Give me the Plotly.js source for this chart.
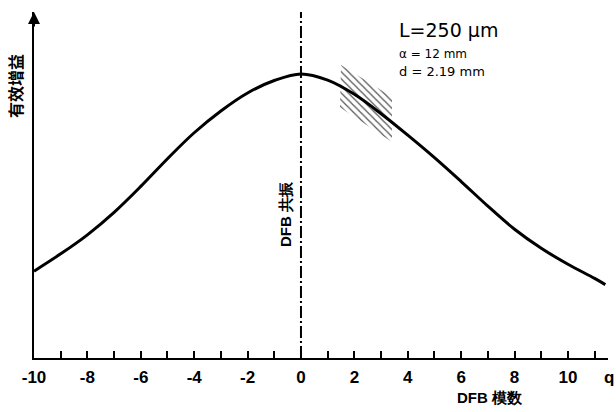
<!DOCTYPE html>
<html>
<head>
<meta charset="utf-8">
<script src="https://cdn.plot.ly/plotly-3.0.1.min.js"></script>
<style>
  html, body { margin: 0; padding: 0; background: #fff; }
  #chart { width: 616px; height: 412px; }
</style>
</head>
<body>
<div id="chart"></div>
<script>
// DFB mode number q versus effective gain (arbitrary units)
const modeNumber = [-10, -9, -8, -7, -6, -5, -4, -3, -2, -1, 0, 1, 2, 3, 4, 5, 6, 7, 8, 9, 10, 11, 11.4];
const effectiveGain = [25.1, 30.1, 35.6, 42.1, 49.6, 57.6, 65.1, 71.4, 76.6, 80.2, 82.1, 80.3, 76.2, 70.6, 64.4, 57.9, 51.0, 43.9, 37.2, 31.7, 27.1, 23.0, 21.2];

// hatched band marking the region around the operating point
const bandX = [1.50, 3.41, 3.41, 1.46, 1.50];
const bandY = [84.7, 75.4, 62.4, 72.5, 84.7];

const tickValues = [-10, -8, -6, -4, -2, 0, 2, 4, 6, 8, 10];
const tickLabels = ['-10', '-8', '-6', '-4', '-2', '0', '2', '4', '6', '8', '10'];

const latin = 'Liberation Sans, Arial, sans-serif';
const wide = 'DejaVu Sans, sans-serif';
const cjk = 'Noto Sans CJK SC, sans-serif';

const traces = [
  {
    x: bandX, y: bandY, type: 'scatter', mode: 'lines',
    fill: 'toself', line: { width: 0, color: 'rgba(0,0,0,0)' },
    fillcolor: 'rgba(0,0,0,0)',
    fillpattern: { shape: '\\', size: 5, solidity: 0.25, fgcolor: '#555', bgcolor: 'rgba(0,0,0,0)' },
    hoverinfo: 'skip', showlegend: false
  },
  {
    x: modeNumber, y: effectiveGain, type: 'scatter', mode: 'lines',
    line: { color: '#000', width: 3, shape: 'spline', smoothing: 1 },
    showlegend: false
  }
];

const layout = {
  width: 616, height: 412,
  margin: { l: 34, r: 8, t: 12, b: 54 },
  paper_bgcolor: '#fff', plot_bgcolor: '#fff',
  showlegend: false,
  xaxis: {
    range: [-10, 11.5], showgrid: false, zeroline: false,
    showline: true, linecolor: '#000', linewidth: 2,
    tickmode: 'array', tickvals: tickValues, ticktext: tickLabels,
    ticks: 'inside', ticklen: 7, tickwidth: 2, tickcolor: '#000',
    ticklabelstandoff: 3,
    minor: { dtick: 1, ticks: 'inside', ticklen: 7, tickwidth: 2, tickcolor: '#000' },
    tickfont: { family: latin, size: 17, color: '#000', weight: 'bold' }
  },
  yaxis: {
    range: [0, 100], showgrid: false, zeroline: false,
    showline: true, linecolor: '#000', linewidth: 2,
    showticklabels: false, ticks: ''
  },
  shapes: [
    // DFB resonance line at q = 0
    {
      type: 'line', xref: 'x', yref: 'y', x0: 0, x1: 0, y0: 0, y1: 100,
      line: { color: '#000', width: 2, dash: '12px,3px,2px,3px' }
    }
  ],
  annotations: [
    // arrow on top of the gain axis
    {
      x: -10, y: 100, xref: 'x', yref: 'y', text: '', showarrow: true,
      ax: 0, ay: 16, arrowhead: 2, arrowsize: 1.2, arrowwidth: 2, arrowcolor: '#000'
    },
    {
      x: -0.033, y: 0.786, xref: 'paper', yref: 'paper', xanchor: 'center', yanchor: 'middle',
      text: '有效增益', textangle: -90,
      showarrow: false, font: { family: cjk, size: 16, color: '#000', weight: 'bold' }
    },
    {
      x: -0.6, y: 41.6, xref: 'x', yref: 'y', xanchor: 'center', yanchor: 'middle',
      text: 'DFB 共振', textangle: -90,
      showarrow: false, font: { family: latin, size: 15, color: '#000', weight: 'bold' }
    },
    {
      x: 3.6, y: 94.8, xref: 'x', yref: 'y', xanchor: 'left', yanchor: 'middle', text: 'L=250 μm',
      showarrow: false, font: { family: wide, size: 19, color: '#000' }
    },
    {
      x: 3.6, y: 87.9, xref: 'x', yref: 'y', xanchor: 'left', yanchor: 'middle', text: 'α = 12 mm',
      showarrow: false, font: { family: wide, size: 12, color: '#000' }
    },
    {
      x: 3.6, y: 82.7, xref: 'x', yref: 'y', xanchor: 'left', yanchor: 'middle', text: 'd = 2.19 mm',
      showarrow: false, font: { family: wide, size: 13, color: '#000' }
    },
    {
      x: 0.794, y: -0.1156, xref: 'paper', yref: 'paper', xanchor: 'center', yanchor: 'middle',
      text: 'DFB 模数',
      showarrow: false, font: { family: latin, size: 15, color: '#000', weight: 'bold' }
    },
    {
      x: 1.0122, y: -0.0578, xref: 'paper', yref: 'paper', xanchor: 'right', yanchor: 'middle',
      text: 'q', borderpad: 0,
      showarrow: false, font: { family: latin, size: 17, color: '#000', weight: 'bold' }
    }
  ]
};

Plotly.newPlot('chart', traces, layout, { staticPlot: true, displayModeBar: false });
</script>
</body>
</html>
